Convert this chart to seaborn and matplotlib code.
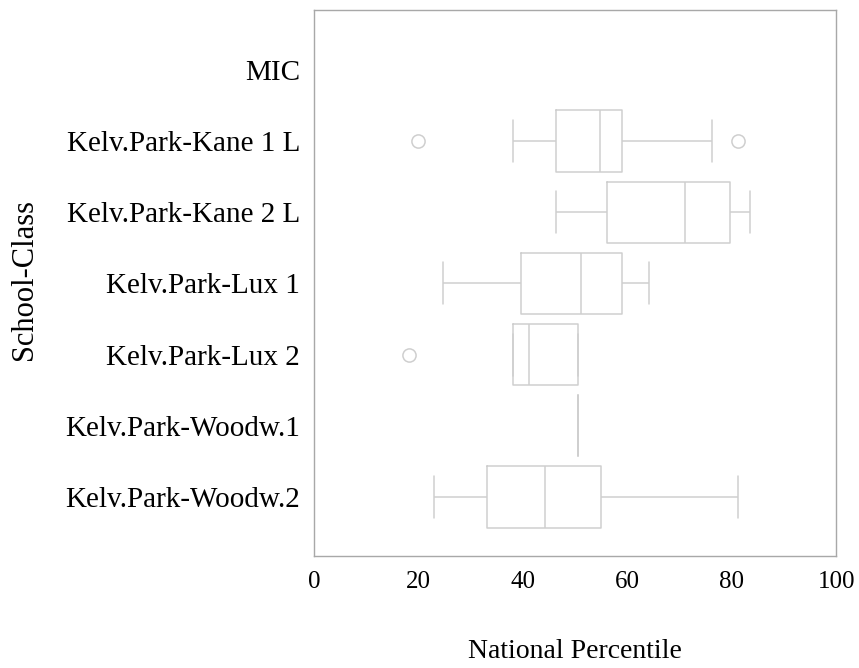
import numpy as np
import pandas as pd
import seaborn as sns
import matplotlib
matplotlib.use("Agg")
import matplotlib.pyplot as plt

categories = ["MIC", "Kelv.Park-Kane 1 L", "Kelv.Park-Kane 2 L", "Kelv.Park-Lux 1",
              "Kelv.Park-Lux 2", "Kelv.Park-Woodw.1", "Kelv.Park-Woodw.2"]

mic = []
kane1 = [20.0, 38.2, 46.3, 50.0, 54.8, 57.0, 59.0, 76.1, 81.2]
kane2 = [46.3, 56.0, 71.1, 79.7, 83.5]
lux1 = [24.8, 39.7, 51.2, 59.0, 64.1]
lux2 = [18.2, 38.2, 41.2, 50.5, 50.5]
woodw1 = [50.5]
woodw2 = [23.0, 33.1, 44.2, 54.9, 81.2]

x_ticks = [0, 20, 40, 60, 80, 100]

groups = [mic, kane1, kane2, lux1, lux2, woodw1, woodw2]
rows = []
for cat, vals in zip(categories, groups):
    for v in vals:
        rows.append({"School-Class": cat, "National Percentile": v})
df = pd.DataFrame(rows)
df["School-Class"] = pd.Categorical(df["School-Class"], categories=categories)

sns.set_style("white")
plt.rcParams["font.family"] = ["Liberation Serif", "DejaVu Serif"]

fig = plt.figure(figsize=(8.59, 6.68), dpi=100)
ax = fig.add_axes([0.3653, 0.1677, 0.6085, 0.8173])

line_c = "#cfcfcf"
box_w = 0.86
cap_w = 0.59
sns.boxplot(data=df, x="National Percentile", y="School-Class", order=categories,
            orient="h", ax=ax, fill=False, color=line_c, width=box_w, linewidth=1.1,
            whis=1.5,
            flierprops=dict(marker="o", markersize=9.5, markerfacecolor="none",
                            markeredgecolor=line_c, markeredgewidth=1.1),
            medianprops=dict(color=line_c, linewidth=1.1),
            capprops=dict(color=line_c, linewidth=1.1),
            whiskerprops=dict(color=line_c, linewidth=1.1),
            boxprops=dict(color=line_c, linewidth=1.1))

# widen whisker caps (seaborn uses half the box width)
for ln in ax.lines:
    xd = np.asarray(ln.get_xdata(), dtype=float)
    yd = np.asarray(ln.get_ydata(), dtype=float)
    if len(xd) == 2 and xd[0] == xd[1]:
        span = abs(yd[1] - yd[0])
        if abs(span - 0.5 * box_w) < 1e-6:
            c = yd.mean()
            ln.set_ydata([c - cap_w / 2, c + cap_w / 2])

ax.set_xlim(0, 100)
ax.set_ylim(6.83, -0.84)
ax.set_xticks(x_ticks)
ax.tick_params(axis="both", length=0, colors="black")
ax.tick_params(axis="y", pad=10, labelsize=21)
ax.tick_params(axis="x", pad=11, labelsize=18)
for s in ax.spines.values():
    s.set_color("#a8a8a8")
    s.set_linewidth(1.0)
ax.set_xlabel("National Percentile", fontsize=20, color="black")
ax.set_ylabel("School-Class", fontsize=22, color="black")
ax.xaxis.label.set_verticalalignment("center")
ax.xaxis.set_label_coords(0.5, (556 - 652) / 546)
ax.yaxis.label.set_verticalalignment("center")
ax.yaxis.label.set_horizontalalignment("center")
ax.yaxis.set_label_coords((25 - 313.8) / 522.7, (556 - 279.5) / 546)

fig.savefig("out.png", dpi=100)
